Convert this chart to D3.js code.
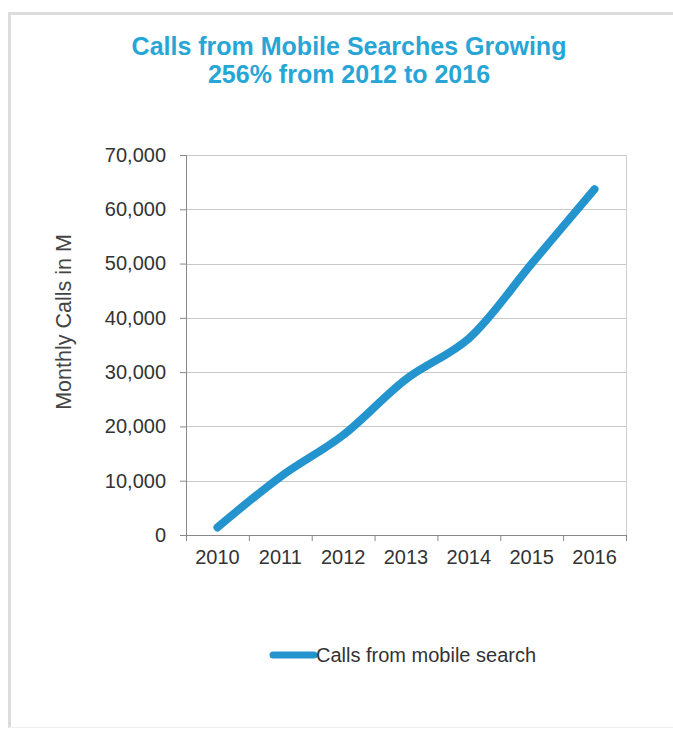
<!DOCTYPE html>
<html>
<head>
<meta charset="utf-8">
<script src="https://cdn.jsdelivr.net/npm/d3@7"></script>
<style>
  body { margin: 0; background: #fff; }
  svg { display: block; font-family: "Liberation Sans", Arial, sans-serif; }
</style>
</head>
<body>
<div id="chart"></div>
<script>
// data
var years = ["2010", "2011", "2012", "2013", "2014", "2015", "2016"];
var calls = [1400, 10700, 18400, 28700, 36200, 50000, 63700];
var yTicks = [0, 10000, 20000, 30000, 40000, 50000, 60000, 70000];
var seriesName = "Calls from mobile search";

var W = 673, H = 729;
var margin = { top: 155, right: 47, bottom: 194, left: 186 },
  width = W - margin.left - margin.right,
  height = H - margin.top - margin.bottom;

var svg = d3.select("#chart").append("svg")
  .attr("width", W)
  .attr("height", H);

/******** frame ********/
svg.append("path")
  .attr("d", "M9.5,728 V13.5 H673")
  .attr("fill", "none")
  .attr("stroke", "#dcdcdc")
  .attr("stroke-width", 3);
svg.append("line")
  .attr("x1", 9).attr("x2", 673).attr("y1", 727.5).attr("y2", 727.5)
  .attr("stroke", "#f0f0f0");

/******** title ********/
var title = svg.append("text")
  .attr("text-anchor", "middle")
  .attr("fill", "#27a6d6")
  .style("font-weight", "bold")
  .style("font-size", "25px");
title.append("tspan").attr("x", 349).attr("y", 55).text("Calls from Mobile Searches Growing");
title.append("tspan").attr("x", 349).attr("y", 83).text("256% from 2012 to 2016");

var g = svg.append("g")
  .attr("transform", "translate(" + margin.left + "," + margin.top + ")");

var x = d3.scaleBand().domain(years).range([0, width]);
var y = d3.scaleLinear().domain([0, 70000]).range([height, 0]);

/******** grid ********/
g.selectAll(".grid")
  .data(yTicks.slice(1))
  .enter().append("line")
  .attr("x1", 0).attr("x2", width)
  .attr("y1", function (d) { return Math.round(y(d)) + 0.5; })
  .attr("y2", function (d) { return Math.round(y(d)) + 0.5; })
  .attr("stroke", "#c8c8c8");
g.append("line")
  .attr("x1", width + 0.5).attr("x2", width + 0.5)
  .attr("y1", 0).attr("y2", height)
  .attr("stroke", "#d0d0d0");

/******** axes ********/
var yAxis = d3.axisLeft(y)
  .tickValues(yTicks)
  .tickSize(6)
  .tickPadding(14)
  .tickFormat(d3.format(","));
var yg = g.append("g").call(yAxis);
yg.select(".domain").attr("stroke", "#888");
yg.selectAll(".tick line").attr("stroke", "#888");
yg.selectAll("text").attr("fill", "#333").style("font-size", "20px");

var xAxis = d3.axisBottom(x)
  .tickSize(0)
  .tickPadding(15);
var xg = g.append("g")
  .attr("transform", "translate(0," + height + ")")
  .call(xAxis);
xg.select(".domain").attr("stroke", "#888");
xg.selectAll("text").attr("fill", "#333").style("font-size", "20px");
// tick marks on band edges
xg.selectAll(".edge")
  .data(years.concat(["end"]))
  .enter().append("line")
  .attr("x1", function (d, i) { return i * x.step() + 0.5; })
  .attr("x2", function (d, i) { return i * x.step() + 0.5; })
  .attr("y1", 0).attr("y2", 6)
  .attr("stroke", "#888");

svg.append("text")
  .attr("transform", "translate(71,322) rotate(-90)")
  .attr("text-anchor", "middle")
  .attr("fill", "#444")
  .style("font-size", "21.5px")
  .text("Monthly Calls in M");

/******** line ********/
var line = d3.line()
  .x(function (d, i) { return x(years[i]) + x.bandwidth() / 2; })
  .y(function (d) { return y(d); })
  .curve(d3.curveCatmullRom.alpha(0.5));

g.append("path")
  .datum(calls)
  .attr("d", line)
  .attr("fill", "none")
  .attr("stroke", "#2494cf")
  .attr("stroke-width", 8)
  .attr("stroke-linecap", "round")
  .attr("stroke-linejoin", "round");

/******** legend ********/
var lg = svg.append("g").attr("transform", "translate(270,655)");
lg.append("line")
  .attr("x1", 3).attr("x2", 44)
  .attr("y1", 0).attr("y2", 0)
  .attr("stroke", "#2494cf")
  .attr("stroke-width", 7)
  .attr("stroke-linecap", "round");
lg.append("text")
  .attr("x", 46).attr("y", 7)
  .attr("fill", "#333")
  .style("font-size", "20px")
  .text(seriesName);
</script>
</body>
</html>
